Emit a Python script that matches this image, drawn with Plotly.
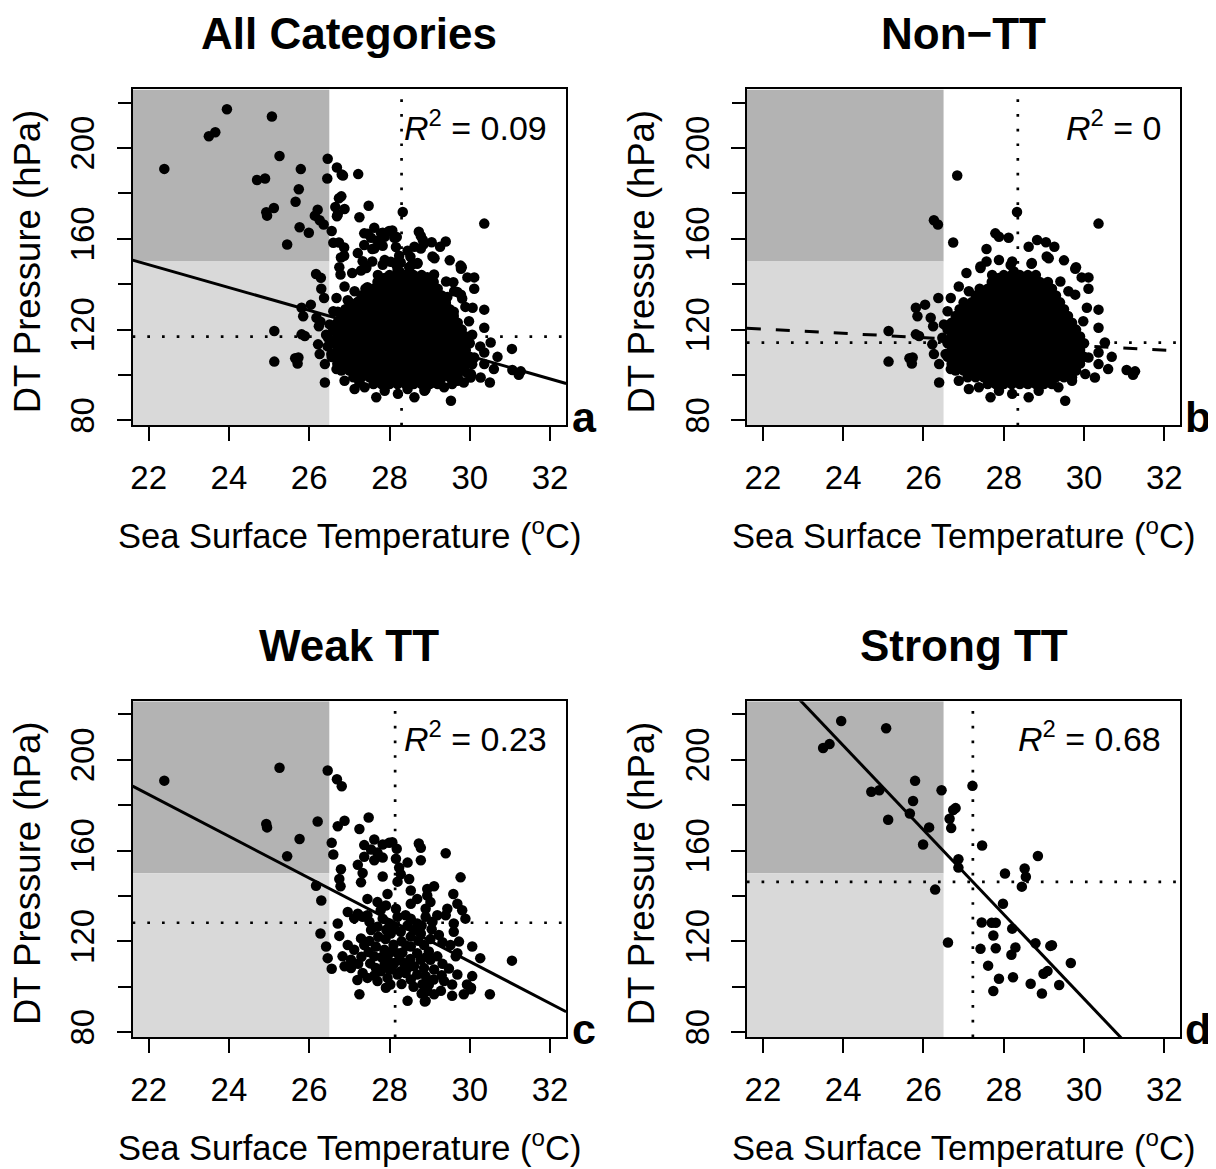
import plotly.graph_objects as go

# ---------------- values ----------------
panel_titles = ["All Categories", "Non\u2212TT", "Weak TT", "Strong TT"]
panel_letters = ["a", "b", "c", "d"]
r2_labels = ["0.09", "0", "0.23", "0.68"]
mean_sst = [28.30, 28.35, 28.14, 27.23]
mean_pressure = [116.9, 114.3, 128.2, 146.2]
fit_slope = [-5.03, -0.93, -9.2, -18.6]

x_ticks = [22, 24, 26, 28, 30, 32]
y_label_ticks = [80, 120, 160, 200]
y_all_ticks = [80, 100, 120, 140, 160, 180, 200, 220]

sst_threshold = 26.5
pressure_threshold = 150

# Strong TT (panel d)
strong_tt_points = [
    (23.95, 217.1), (25.07, 213.9), (23.50, 205.2), (23.66, 206.9), (25.79, 190.7),
    (24.70, 185.9), (24.90, 186.6), (26.45, 186.6), (25.74, 181.8), (27.22, 188.5),
    (25.66, 176.3), (25.12, 173.6), (26.14, 170.2), (26.80, 178.7), (26.74, 177.9),
    (26.65, 174.0), (26.69, 169.9), (25.99, 162.7), (27.46, 162.2), (26.87, 156.2),
    (26.87, 152.5), (28.85, 157.6), (28.03, 149.9), (28.52, 152.1), (28.55, 148.5),
    (28.45, 144.1), (26.29, 142.8), (27.98, 136.6), (26.61, 119.5), (27.45, 128.3),
    (27.70, 128.2), (27.80, 128.2), (27.74, 122.6), (28.21, 125.6), (28.79, 119.2),
    (29.20, 118.3), (29.16, 118.0), (27.42, 116.7), (27.80, 117.0), (28.29, 117.3),
    (28.19, 114.1), (27.61, 109.3), (29.67, 110.5), (28.99, 105.7), (29.09, 106.9),
    (27.88, 103.5), (28.23, 104.2), (28.67, 101.3), (29.38, 100.8), (27.74, 98.1),
    (28.95, 97.0),
]

# Weak TT (panel c)
weak_tt_points = [
    (22.39, 190.8), (25.26, 196.5), (26.46, 195.3), (26.69, 191.4), (26.81, 188.3),
    (24.93, 171.7), (24.95, 170.2), (26.21, 172.8), (25.76, 165.1), (25.45, 157.5),
    (26.71, 170.7), (26.88, 173.1), (27.25, 169.5), (27.48, 174.6), (26.17, 144.5),
    (26.30, 138.0), (26.28, 123.5), (31.05, 111.5), (30.50, 96.7), (29.77, 148.2),
    (29.59, 140.9), (29.40, 158.8),
    (26.56, 163.4), (26.60, 158.3), (27.37, 162.4), (27.62, 164.9), (27.83, 162.7),
    (27.99, 163.4), (28.07, 163.7), (27.54, 160.5), (27.70, 159.1), (27.83, 156.9),
    (27.62, 155.7), (28.18, 160.8), (28.73, 163.1), (28.78, 161.2), (28.16, 156.4),
    (28.45, 154.7), (28.78, 155.7), (27.37, 157.3), (27.21, 153.7), (26.79, 151.8),
    (26.75, 147.5), (26.78, 144.3), (27.33, 150.1), (27.29, 146.0), (27.83, 148.6),
    (28.24, 152.5), (28.28, 149.6), (28.20, 146.3), (28.49, 147.5), (28.53, 142.4),
    (28.94, 143.1), (29.11, 144.3), (27.45, 138.7), (27.70, 137.3), (27.95, 140.9),
    (27.91, 135.8), (28.16, 134.4), (27.78, 133.7), (28.53, 136.6), (28.69, 138.7),
    (28.94, 140.2), (29.02, 137.3), (28.90, 134.4), (29.44, 134.4), (29.69, 136.6),
    (29.81, 133.7), (26.96, 132.9), (27.21, 132.2), (27.45, 131.5),
    (26.71, 127.9), (26.75, 122.4), (26.42, 117.7), (26.46, 112.6), (26.56, 107.9),
    (26.96, 118.4), (27.12, 116.3), (26.83, 113.4), (27.04, 111.9), (26.88, 109.0),
    (27.04, 108.3), (27.29, 121.3), (27.37, 118.4), (27.12, 130.2), (27.33, 130.8),
    (27.50, 128.6), (27.70, 126.4), (27.83, 130.0), (28.00, 127.9), (28.20, 130.8),
    (28.40, 131.5), (28.53, 130.0), (28.69, 127.9), (28.90, 130.8), (29.07, 128.6),
    (29.19, 131.5), (29.40, 131.5), (27.54, 125.0), (28.03, 123.5), (28.28, 124.2),
    (28.53, 122.1), (28.78, 123.5), (27.66, 117.7), (27.87, 116.3), (27.62, 113.4),
    (27.95, 112.6), (28.20, 114.8), (28.12, 110.5), (28.36, 110.5), (28.53, 117.7),
    (28.69, 114.8), (28.86, 118.4), (28.98, 115.5), (28.78, 111.9), (29.02, 111.9),
    (28.61, 109.0), (28.86, 108.3), (29.11, 107.6), (28.90, 104.7), (29.19, 113.4),
    (29.23, 122.8), (29.60, 124.2), (29.73, 119.9), (29.52, 118.4), (29.69, 114.8),
    (29.65, 113.4), (30.06, 117.7), (30.26, 112.6), (29.60, 127.9), (29.89, 130.0),
    (29.69, 105.4), (30.06, 104.7), (29.93, 101.0), (30.02, 98.9), (29.56, 101.0),
    (29.36, 102.5), (29.56, 96.0), (29.85, 96.7), (29.11, 96.7), (28.90, 93.8),
    (28.94, 98.1), (28.98, 101.0), (28.45, 93.8), (27.25, 96.7), (27.33, 106.1),
    (27.45, 103.9), (27.70, 102.5), (27.91, 99.6), (27.95, 103.9), (28.20, 105.4),
    (28.40, 106.1), (28.53, 103.2), (28.69, 105.4), (27.78, 106.8), (27.66, 108.3),
    (28.07, 109.0), (28.28, 106.8), (28.45, 108.3), (28.30, 120.0), (28.10, 118.5),
    (27.90, 121.0), (28.45, 127.0), (28.80, 127.0), (28.25, 112.0), (28.00, 107.5),
    (28.60, 100.0), (28.80, 97.0), (28.88, 93.5), (30.03, 99.6),
    (27.50, 120.2), (27.72, 122.0), (27.92, 125.1), (28.12, 126.2), (28.62, 125.0),
    (29.05, 125.3), (29.32, 119.6), (29.02, 121.0), (28.72, 120.3), (28.42, 118.1),
    (28.02, 115.2), (27.80, 113.0), (27.48, 115.3), (27.30, 113.2), (27.22, 110.1),
    (27.52, 110.3), (27.88, 110.0), (28.52, 112.2), (28.32, 115.1), (28.92, 113.1),
    (29.32, 110.1), (29.48, 108.0), (29.30, 105.1), (29.10, 103.2), (28.82, 101.1),
    (28.30, 101.2), (28.02, 101.0), (27.62, 105.0), (27.20, 103.0), (29.28, 98.2),
]

# Non-TT (panel b): scattered points around the dense core
non_tt_points = [
    (26.84, 187.9), (26.26, 168.2), (26.36, 166.3), (26.74, 158.4), (28.33, 171.8),
    (27.79, 162.4), (27.88, 160.9), (28.12, 160.5), (28.83, 159.5), (27.57, 155.5),
    (28.62, 156.5), (29.26, 156.5), (29.07, 152.2), (27.57, 150.0), (27.88, 150.7),
    (28.21, 150.0), (28.69, 149.0), (27.42, 147.8), (28.17, 148.5), (30.36, 166.7),
    (29.05, 158.5), (29.50, 150.5), (29.80, 147.5),
    (25.13, 119.4), (25.13, 105.9), (25.73, 107.7), (25.65, 107.4), (25.71, 105.1),
    (25.81, 117.9), (25.89, 117.2), (25.81, 129.6), (25.85, 125.9), (26.04, 131.0),
    (26.18, 125.2), (26.37, 133.9), (26.39, 96.7), (26.24, 121.5), (26.22, 113.5),
    (26.26, 109.2), (26.39, 104.8), (26.68, 133.9), (26.88, 139.0), (27.07, 144.9),
    (27.42, 147.1), (27.71, 144.1), (27.88, 142.7), (27.13, 136.9), (27.46, 135.4),
    (26.60, 128.1), (26.51, 122.3), (26.47, 116.4), (26.55, 109.2), (26.68, 102.6),
    (26.88, 97.5), (27.13, 93.8), (27.38, 94.6), (27.67, 90.2),
    (28.70, 149.3), (28.25, 145.6), (29.12, 151.4), (29.78, 146.8), (29.94, 143.0),
    (30.11, 143.0), (30.11, 138.0), (29.41, 141.2), (29.61, 136.9), (29.78, 135.4),
    (30.07, 129.6), (30.36, 128.8), (29.98, 123.7), (30.36, 120.8), (30.52, 114.3),
    (30.69, 108.0), (30.36, 109.9), (30.11, 107.7), (30.36, 104.8), (30.60, 102.6),
    (30.27, 98.9), (30.03, 100.4), (31.06, 102.2), (31.27, 101.6), (31.22, 100.1),
    (29.53, 88.7), (28.62, 90.2), (28.21, 91.7), (29.70, 97.5), (29.36, 94.6),
    (28.87, 93.1), (27.88, 93.1),
]

# Non-TT dense core (solid black in the picture), estimated row by row
non_tt_core_pressure = [96, 99, 102, 105, 108, 111, 114, 117, 120, 123, 126, 129, 132, 135, 138, 141, 144]
non_tt_core_sst_rows = [
    "27.6 27.8 28.0 28.2 28.4 28.6 28.8 29.0 29.2",
    "27.1 27.3 27.5 27.7 27.9 28.1 28.3 28.5 28.7 28.9 29.1 29.3 29.5 29.7",
    "26.8 27.0 27.2 27.4 27.6 27.8 28.0 28.2 28.4 28.6 28.8 29.0 29.2 29.4 29.6 29.8",
    "26.7 26.9 27.1 27.3 27.5 27.7 27.9 28.1 28.3 28.5 28.7 28.9 29.1 29.3 29.5 29.7 29.9",
    "26.6 26.8 27.0 27.2 27.4 27.6 27.8 28.0 28.2 28.4 28.6 28.8 29.0 29.2 29.4 29.6 29.8 30.0",
    "26.7 26.9 27.1 27.3 27.5 27.7 27.9 28.1 28.3 28.5 28.7 28.9 29.1 29.3 29.5 29.7 29.9",
    "26.6 26.8 27.0 27.2 27.4 27.6 27.8 28.0 28.2 28.4 28.6 28.8 29.0 29.2 29.4 29.6 29.8 30.0",
    "26.7 26.9 27.1 27.3 27.5 27.7 27.9 28.1 28.3 28.5 28.7 28.9 29.1 29.3 29.5 29.7 29.9",
    "26.6 26.8 27.0 27.2 27.4 27.6 27.8 28.0 28.2 28.4 28.6 28.8 29.0 29.2 29.4 29.6 29.8",
    "26.7 26.9 27.1 27.3 27.5 27.7 27.9 28.1 28.3 28.5 28.7 28.9 29.1 29.3 29.5 29.7",
    "26.8 27.0 27.2 27.4 27.6 27.8 28.0 28.2 28.4 28.6 28.8 29.0 29.2 29.4 29.6",
    "26.9 27.1 27.3 27.5 27.7 27.9 28.1 28.3 28.5 28.7 28.9 29.1 29.3 29.5",
    "27.0 27.2 27.4 27.6 27.8 28.0 28.2 28.4 28.6 28.8 29.0 29.2 29.4",
    "27.3 27.5 27.7 27.9 28.1 28.3 28.5 28.7 28.9 29.1 29.3",
    "27.4 27.6 27.8 28.0 28.2 28.4 28.6 28.8 29.0 29.2",
    "27.7 27.9 28.1 28.3 28.5 28.7 28.9 29.1",
    "28.0 28.2 28.4 28.6 28.8",
]

# ---------------- assemble panel data ----------------
non_tt = list(non_tt_points)
for p, row in zip(non_tt_core_pressure, non_tt_core_sst_rows):
    for s in row.split():
        non_tt.append((float(s), float(p)))

all_pts = non_tt + weak_tt_points + strong_tt_points
panel_points = [all_pts, non_tt, weak_tt_points, strong_tt_points]
fit_dash = ["solid", "14px,15px", "solid", "solid"]

# ---------------- layout geometry (pixels) ----------------
OFF = 8  # page body margin
W, H = 1216 - OFF, 1169 - OFF
X_RANGE = [21.6, 32.4]
Y_RANGE = [77.8, 225.8]
boxes_page = [  # left, right, top, bottom in page pixels
    (131.0, 566.0, 90.0, 428.3),
    (747.3, 1182.3, 90.0, 428.3),
    (131.0, 566.0, 706.0, 1044.3),
    (747.3, 1182.3, 706.0, 1044.3),
]
FONT = "Liberation Sans, Arial, Helvetica, sans-serif"

fig = go.Figure()
annotations = []
shapes = []

tick_style = dict(ticks="outside", ticklen=14, tickwidth=2, tickcolor="black")

for i in range(4):
    n = "" if i == 0 else str(i + 1)
    xa, ya = "x" + n, "y" + n
    ya_ticks = "y" + str(i + 5)
    L, R, T, B = [v - OFF for v in boxes_page[i]]
    pts = panel_points[i]

    fig.add_trace(go.Scatter(
        x=[p[0] for p in pts], y=[p[1] for p in pts], mode="markers",
        marker=dict(color="black", size=10.5, line=dict(width=0)),
        xaxis=xa, yaxis=ya, showlegend=False, hoverinfo="skip"))

    lx = X_RANGE
    ly = [mean_pressure[i] + fit_slope[i] * (v - mean_sst[i]) for v in lx]
    fig.add_trace(go.Scatter(
        x=lx, y=ly, mode="lines",
        line=dict(color="black", width=3, dash=fit_dash[i]),
        xaxis=xa, yaxis=ya, showlegend=False, hoverinfo="skip"))

    # empty trace so the unlabeled tick axis is drawn
    fig.add_trace(go.Scatter(x=[], y=[], mode="markers", xaxis=xa, yaxis=ya_ticks,
                             showlegend=False, hoverinfo="skip"))

    axis_common = dict(
        showline=True, mirror=True, linecolor="black", linewidth=2,
        showgrid=False, zeroline=False, fixedrange=True,
        tickfont=dict(family=FONT, size=33, color="black"), **tick_style,
    )
    fig.update_layout(**{
        ("xaxis" + n): dict(domain=[L / W, R / W], range=X_RANGE, anchor=ya,
                            tickvals=x_ticks, ticktext=[str(t) for t in x_ticks],
                            ticklabelstandoff=8, **axis_common),
        ("yaxis" + n): dict(domain=[1 - B / H, 1 - T / H], range=Y_RANGE, anchor=xa,
                            tickvals=y_label_ticks, ticktext=[str(t) for t in y_label_ticks],
                            tickangle=-90, ticklabelstandoff=9, **axis_common),
        ("yaxis" + str(i + 5)): dict(overlaying=ya, anchor=xa, side="left", range=Y_RANGE,
                                     tickvals=y_all_ticks, showticklabels=False,
                                     showline=False, showgrid=False, zeroline=False,
                                     fixedrange=True, **tick_style),
    })

    # shaded quadrants
    shapes.append(dict(type="rect", xref=xa, yref=ya, x0=X_RANGE[0], x1=sst_threshold,
                       y0=pressure_threshold, y1=Y_RANGE[1], fillcolor="#b3b3b3",
                       line=dict(width=0), layer="below"))
    shapes.append(dict(type="rect", xref=xa, yref=ya, x0=X_RANGE[0], x1=sst_threshold,
                       y0=Y_RANGE[0], y1=pressure_threshold, fillcolor="#d9d9d9",
                       line=dict(width=0), layer="below"))
    # dotted mean lines
    shapes.append(dict(type="line", xref=xa, yref=ya + " domain", x0=mean_sst[i], x1=mean_sst[i],
                       y0=0, y1=1, line=dict(color="black", width=2.7, dash="2.7px,12px")))
    shapes.append(dict(type="line", xref=xa + " domain", yref=ya, x0=0, x1=1,
                       y0=mean_pressure[i], y1=mean_pressure[i],
                       line=dict(color="black", width=2.7, dash="2.7px,12px")))

    cx = (L + R) / 2
    annotations += [
        dict(text="<b>%s</b>" % panel_titles[i], x=cx / W, y=1 - (T - 56) / H,
             xref="paper", yref="paper", showarrow=False, xanchor="center", yanchor="middle",
             font=dict(family=FONT, size=44, color="black")),
        dict(text="Sea Surface Temperature (<sup>o</sup>C)", x=cx / W, y=1 - (B + 109) / H,
             xref="paper", yref="paper", showarrow=False, xanchor="center", yanchor="middle",
             font=dict(family=FONT, size=34.5, color="black")),
        dict(text="DT Pressure (hPa)", x=(L - 106) / W, y=1 - ((T + B) / 2 + 4) / H, textangle=-90,
             xref="paper", yref="paper", showarrow=False, xanchor="center", yanchor="middle",
             font=dict(family=FONT, size=36.5, color="black")),
        dict(text="<i>R</i><sup>2</sup> = %s" % r2_labels[i], x=(R - 17) / W, y=1 - (T + 36) / H,
             xref="paper", yref="paper", showarrow=False, xanchor="right", yanchor="middle",
             font=dict(family=FONT, size=34, color="black")),
        dict(text="<b>%s</b>" % panel_letters[i], x=(R + 18) / W, y=1 - (B - 8) / H,
             xref="paper", yref="paper", showarrow=False, xanchor="center", yanchor="middle",
             font=dict(family=FONT, size=43, color="black")),
    ]

fig.update_layout(
    width=W, height=H, margin=dict(l=0, r=0, t=0, b=0),
    paper_bgcolor="white", plot_bgcolor="white",
    shapes=shapes, annotations=annotations, showlegend=False,
    font=dict(family=FONT, color="black"),
)

fig.write_html("out.html")
